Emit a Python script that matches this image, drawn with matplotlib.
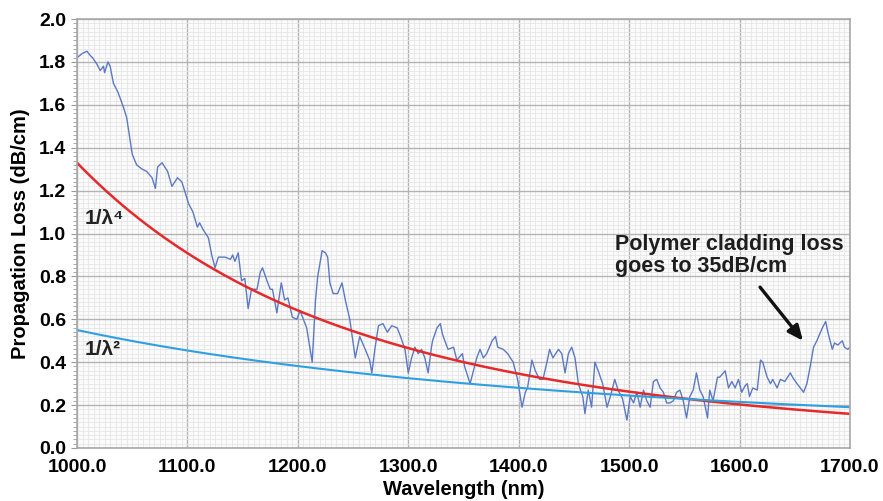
import matplotlib
matplotlib.use("Agg")
import matplotlib.pyplot as plt
import numpy as np
from matplotlib.ticker import MultipleLocator, FormatStrFormatter

# Measured propagation loss spectrum
wavelength = [
    1000, 1005, 1009, 1012, 1014, 1018, 1021, 1024, 1025, 1028, 1030, 1033, 1037, 1042,
    1045, 1048, 1050, 1054, 1059, 1063, 1068, 1071, 1073, 1077, 1082, 1086, 1091, 1095,
    1101, 1105, 1109, 1111, 1114, 1119, 1122, 1125, 1128, 1134, 1139, 1141, 1143, 1146,
    1149, 1152, 1155, 1158, 1163, 1166, 1168, 1172, 1175, 1177, 1181, 1185, 1188, 1191,
    1195, 1199, 1202, 1208, 1213, 1216, 1218, 1222, 1225, 1227, 1229, 1232, 1236, 1240,
    1243, 1247, 1252, 1256, 1261, 1265, 1267, 1270, 1273, 1277, 1281, 1285, 1290, 1293,
    1297, 1300, 1303, 1306, 1309, 1312, 1315, 1318, 1321, 1322, 1326, 1329, 1331, 1336,
    1341, 1344, 1349, 1351, 1356, 1359, 1362, 1365, 1368, 1371, 1376, 1379, 1381, 1386,
    1390, 1395, 1399, 1403, 1406, 1408, 1412, 1415, 1419, 1422, 1426, 1428, 1431, 1436,
    1439, 1442, 1445, 1448, 1451, 1454, 1458, 1460, 1463, 1466, 1469, 1472, 1476, 1480,
    1483, 1487, 1490, 1494, 1498, 1501, 1504, 1507, 1510, 1513, 1516, 1519, 1522, 1525,
    1528, 1531, 1534, 1537, 1540, 1543, 1546, 1549, 1552, 1555, 1558, 1561, 1564, 1567,
    1571, 1573, 1576, 1580, 1582, 1587, 1590, 1593, 1596, 1599, 1602, 1605, 1607, 1609,
    1612, 1616, 1619, 1621, 1625, 1628, 1630, 1634, 1637, 1641, 1646, 1648, 1652, 1655,
    1658, 1661, 1664, 1667, 1670, 1675, 1678, 1680, 1684, 1686, 1689, 1693, 1695, 1698,
    1700,
]
measured_loss = [
    1.82, 1.84, 1.85, 1.83, 1.82, 1.79, 1.76, 1.78, 1.75, 1.80, 1.78, 1.70, 1.66, 1.59,
    1.54, 1.44, 1.37, 1.32, 1.30, 1.29, 1.26, 1.21, 1.31, 1.33, 1.29, 1.22, 1.26, 1.24,
    1.14, 1.10, 1.03, 1.05, 1.02, 0.98, 0.90, 0.84, 0.89, 0.89, 0.88, 0.90, 0.87, 0.91,
    0.78, 0.79, 0.65, 0.74, 0.74, 0.82, 0.84, 0.78, 0.74, 0.74, 0.63, 0.77, 0.69, 0.70,
    0.61, 0.60, 0.64, 0.56, 0.40, 0.69, 0.80, 0.92, 0.91, 0.89, 0.77, 0.72, 0.72, 0.77,
    0.69, 0.60, 0.42, 0.52, 0.46, 0.41, 0.35, 0.47, 0.57, 0.58, 0.54, 0.57, 0.56, 0.52,
    0.46, 0.35, 0.42, 0.47, 0.44, 0.46, 0.42, 0.35, 0.47, 0.50, 0.56, 0.58, 0.53, 0.46,
    0.47, 0.41, 0.44, 0.38, 0.30, 0.36, 0.42, 0.46, 0.42, 0.44, 0.50, 0.52, 0.47, 0.46,
    0.44, 0.40, 0.32, 0.19, 0.26, 0.28, 0.41, 0.36, 0.32, 0.32, 0.41, 0.46, 0.42, 0.46,
    0.44, 0.35, 0.44, 0.47, 0.42, 0.30, 0.24, 0.16, 0.27, 0.19, 0.40, 0.36, 0.30, 0.19,
    0.24, 0.32, 0.27, 0.23, 0.13, 0.24, 0.21, 0.26, 0.19, 0.27, 0.22, 0.19, 0.31, 0.32,
    0.28, 0.26, 0.21, 0.21, 0.22, 0.26, 0.27, 0.22, 0.14, 0.24, 0.27, 0.35, 0.27, 0.24,
    0.14, 0.27, 0.22, 0.33, 0.33, 0.36, 0.28, 0.31, 0.28, 0.32, 0.26, 0.29, 0.30, 0.24,
    0.28, 0.27, 0.41, 0.40, 0.33, 0.30, 0.32, 0.28, 0.32, 0.31, 0.35, 0.33, 0.30, 0.28,
    0.26, 0.30, 0.38, 0.47, 0.50, 0.56, 0.59, 0.54, 0.46, 0.49, 0.48, 0.50, 0.47, 0.46,
    0.47,
]

# Rayleigh-type scattering fits, anchored at 1000 nm
fit_lambda = np.linspace(1000, 1700, 200)
lambda4_at_1000 = 1.33
lambda2_at_1000 = 0.55
fit_lambda4 = lambda4_at_1000 * (1000.0 / fit_lambda) ** 4
fit_lambda2 = lambda2_at_1000 * (1000.0 / fit_lambda) ** 2

x_ticks = [1000, 1100, 1200, 1300, 1400, 1500, 1600, 1700]
y_ticks = [0.0, 0.2, 0.4, 0.6, 0.8, 1.0, 1.2, 1.4, 1.6, 1.8, 2.0]

font = ["Liberation Sans", "DejaVu Sans"]
plt.rcParams["font.family"] = font
plt.rcParams["font.weight"] = "bold"

fig = plt.figure(figsize=(8.83, 5.01), dpi=100)
ax = fig.add_axes([0.0872, 0.1058, 0.8754, 0.8562])
ax.set_facecolor("#fbfbfb")

ax.set_xlim(1000, 1700)
ax.set_ylim(0, 2.0)
ax.set_xticks(x_ticks)
ax.set_yticks(y_ticks)
ax.xaxis.set_major_formatter(FormatStrFormatter("%.1f"))
ax.yaxis.set_major_formatter(FormatStrFormatter("%.1f"))
ax.xaxis.set_minor_locator(MultipleLocator(5))
ax.yaxis.set_minor_locator(MultipleLocator(0.02))

ax.grid(which="minor", color="#e6e6e6", linewidth=0.6)
ax.grid(which="major", color="#b4b4b4", linewidth=1.0)
ax.set_axisbelow(True)

ax.tick_params(axis="both", which="major", labelsize=14, length=0)
ax.tick_params(axis="x", which="major", pad=8)
ax.tick_params(axis="x", which="minor", length=0)
ax.tick_params(axis="y", which="minor", length=3, color="#9a9a9a", width=0.6)
ax.tick_params(axis="y", which="major", length=4, color="#9a9a9a", pad=4)
for lbl in ax.get_xticklabels() + ax.get_yticklabels():
    lbl.set_fontweight("bold")

for side in ax.spines.values():
    side.set_color("#a8a8a8")
    side.set_linewidth(1.2)

ax.plot(wavelength, measured_loss, color="#5b79c4", linewidth=1.0)
ax.plot(fit_lambda, fit_lambda4, color="#e42a2a", linewidth=1.8)
ax.plot(fit_lambda, fit_lambda2, color="#2f9fe0", linewidth=1.5)

ax.set_xlabel("Wavelength (nm)", fontsize=14.5, fontweight="bold", labelpad=3)
ax.set_ylabel("Propagation Loss (dB/cm)", fontsize=14.5, fontweight="bold", labelpad=6)

ax.text(1007, 1.07, "1/λ⁴", fontsize=15, fontweight="bold", color="#222222",
        family=font, va="center", ha="left")
ax.text(1007, 0.46, "1/λ²", fontsize=15, fontweight="bold", color="#222222",
        family=font, va="center", ha="left")

ax.text(1487, 1.0, "Polymer cladding loss\ngoes to 35dB/cm", fontsize=15.5,
        fontweight="bold", color="#1e1e1e", va="top", ha="left", linespacing=1.1)
ax.annotate("", xy=(1659, 0.49), xytext=(1617, 0.76),
            arrowprops=dict(arrowstyle="-|>,head_length=0.9,head_width=0.4",
                            color="#111111", linewidth=2.4))

fig.savefig("out.png", dpi=100)
